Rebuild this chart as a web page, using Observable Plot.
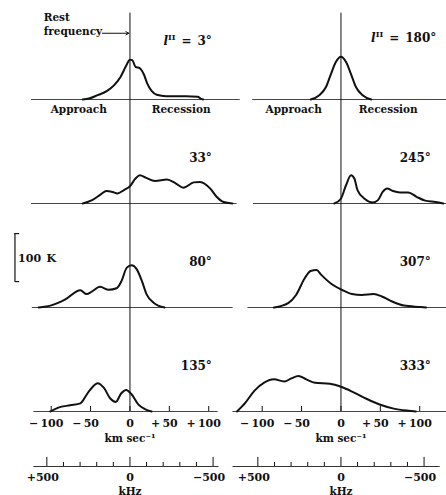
<!DOCTYPE html>
<html><head><meta charset="utf-8">
<script src="https://cdn.jsdelivr.net/npm/d3@7"></script>
<script src="https://cdn.jsdelivr.net/npm/@observablehq/plot@0.6"></script>
<style>
html,body{margin:0;padding:0;background:#fff;}
</style></head><body><div id="chart"></div>
<script>
// ---- panels (col 0 = left, col 1 = right; rows top to bottom) ----
const panelCols   = [0, 0, 0, 0, 1, 1, 1, 1];
const panelRows   = [0, 1, 2, 3, 0, 1, 2, 3];
const panelLabels = ["3°", "33°", "80°", "135°", "180°", "245°", "307°", "333°"];
const baseFrom    = [-125, -125, -124, -122, -112, -111, -118, -137]; // km/s
const baseTo      = [140, 136, 131, 112, 134, 134, 134, 134];

// ---- 21-cm profiles: radial velocity (km/s) and brightness temperature (K) ----
const v3   = [-60, -52, -41, -29, -20, -12, -5.5, 0, 3, 7, 12.7, 18, 22, 27.5, 34, 46, 71, 86, 90, 93];
const t3   = [0, 2, 9, 18, 30, 47, 68, 83, 82, 68, 65, 51, 33, 18, 10, 7, 7, 5.5, 2, 0];
const v33  = [-60, -48, -37, -30, -22, -16, -7.6, 0, 7, 12.7, 20, 32, 47, 58, 68, 81, 89, 102, 110, 119, 130];
const t33  = [0, 7, 19, 26, 24, 21, 28, 36, 52, 59, 54, 47, 50, 42, 33, 44, 45, 31, 14, 3, 0];
const v80  = [-116, -99, -82, -63, -55, -48.5, -38, -27, -17, -10.5, -4, 2, 8.5, 15, 21, 30, 44];
const t80  = [0, 5, 17, 36, 28, 33, 43, 37, 40, 56, 83, 88, 80, 56, 28, 10, 0];
const v135 = [-101, -91, -76, -63, -53, -41, -33, -25, -18, -11, -5, 2, 10.5, 19, 27.5];
const t135 = [0, 8, 13, 17, 40, 59, 49, 27, 20, 38, 45, 36, 15, 5, 0];
const v180 = [-38.5, -27.5, -19, -12.5, -6.5, 0, 6.5, 12.5, 19, 27.5, 38.5];
const t180 = [0, 9, 26, 54, 78, 89, 78, 54, 26, 9, 0];
const v245 = [-8.5, 0, 6.4, 12.8, 17, 21, 30, 40.6, 47, 53, 58.6, 66, 75, 85.5, 96, 107, 120, 130];
const t245 = [0, 10, 38, 59, 52, 28, 10, 2, 7, 24, 31, 26, 23, 23, 14, 6, 3, 0];
const v307 = [-85, -67, -57, -46, -38.5, -31, -25, -12, 1, 14, 26.5, 41.5, 52, 65, 80, 101, 108];
const t307 = [0, 9, 26, 61, 76, 78, 68, 49, 37, 28, 26, 28, 23, 12.5, 4, 1, 0];
const v333 = [-132, -121, -110, -97.5, -85, -72, -63, -54, -44, -33, -14, 1, 16, 33, 50, 67, 86, 95];
const t333 = [0, 19, 43, 60, 67, 62.5, 69, 74, 67, 60, 58, 51, 40, 26, 14, 6, 1.5, 0];
const profV = [v3, v33, v80, v135, v180, v245, v307, v333];
const profT = [t3, t33, t80, t135, t180, t245, t307, t333];

// ---- axes ----
const velTicks = [-100, -50, 0, 50, 100];                 // km/s
const khzTicks = [500, 400, 300, 200, 100, 0, -100, -200, -300, -400, -500];
const khzLabels = [500, 0, -500];
const KHZ_PER_KMS = 4.738;                                // 1420.406 MHz / c
const scaleBarK = 100;

// ---- layout constants ----
const yMin = -29.1667, yMax = 187.5;
const font = "DejaVu Serif";

// ---- build tables ----
const panels = panelCols.map((col, i) => ({col, row: panelRows[i], label: panelLabels[i], from: baseFrom[i], to: baseTo[i]}));
const profileData = panels.flatMap((p, i) => profV[i].map((v, j) => ({col: p.col, row: p.row, v, t: profT[i][j]})));
const ruleData = panels.map(p => ({col: p.col, row: p.row, y1: p.row === 3 ? 0 : yMin, y2: p.row === 0 ? 180 : yMax}));
const cols = [0, 1];
const velTickData = cols.flatMap(col => velTicks.map(v => ({col, v})));
const khzTickData = cols.flatMap(col => khzTicks.map(k => ({col, k, v: -k / KHZ_PER_KMS, major: k % 500 === 0})));
const khzLabelData = cols.flatMap(col => khzLabels.map(k => ({col, k, v: -k / KHZ_PER_KMS})));
const khzExtent = [{col: 0, from: -122, to: 113}, {col: 1, from: -137, to: 126}];
const sgn = d => d > 0 ? "+" : d < 0 ? "\u2212" : "";
const approachData = cols.flatMap(col => [
  {col, v: col ? -60 : -65, text: "Approach"},
  {col, v: col ? 60 : 65, text: "Recession"}]);
const topLabels = panels.filter(p => p.row === 0);
const rowLabels = panels.filter(p => p.row > 0);

const bold = {fontFamily: font, fontWeight: "bold"};

const svg = Plot.plot({
  width: 446, height: 495,
  marginLeft: 31, marginRight: 0, marginTop: 9, marginBottom: 70,
  style: {fontFamily: font, fontWeight: "bold", fontSize: "10.5px", background: "#fff", color: "#111"},
  x: {domain: [-125, 134], axis: null},
  y: {domain: [yMin, yMax], axis: null},
  fx: {domain: [0, 1], paddingInner: 0.0332, paddingOuter: 0, round: false, axis: null},
  fy: {domain: [0, 1, 2, 3], padding: 0, round: false, axis: null},
  marks: [
    // baselines
    Plot.ruleY(panels, {y: 0, x1: "from", x2: "to", fx: "col", fy: "row", stroke: "#444", strokeWidth: 1.1}),
    // rest-frequency line
    Plot.ruleX(ruleData, {x: 0, y1: "y1", y2: "y2", fx: "col", fy: "row", stroke: "#111", strokeWidth: 1}),
    // profiles
    Plot.line(profileData, {x: "v", y: "t", fx: "col", fy: "row", curve: "monotone-x", stroke: "#111", strokeWidth: 2, strokeLinejoin: "round"}),
    // panel labels
    Plot.text(rowLabels, {x: d => d.col ? 114 : 104, y: 87, fx: "col", fy: "row", text: "label", textAnchor: "end", lineAnchor: "bottom", fontSize: 12, ...bold}),
    Plot.text(topLabels, {x: d => d.col ? 121 : 104, y: d => d.col ? 120 : 112.5, fx: "col", fy: "row", text: "label", textAnchor: "end", lineAnchor: "bottom", fontSize: 12, className: "lii", ...bold}),
    // approach / recession
    Plot.text(approachData, {x: "v", y: 0, dy: 14, fx: "col", fy: () => 0, text: "text", lineAnchor: "bottom", fontSize: 10.5, ...bold}),
    // rest frequency annotation
    Plot.text([{col: 0}], {x: -109.5, y: 135, fx: "col", fy: () => 0, text: () => "Rest\nfrequency", textAnchor: "start", lineAnchor: "bottom", lineHeight: 1.3, fontSize: 10.5, ...bold}),
    Plot.arrow([{col: 0}], {x1: -35, x2: -1.5, y1: 138, y2: 138, fx: "col", fy: () => 0, stroke: "#111", strokeWidth: 1, headLength: 5}),
    // 100 K scale bar
    Plot.ruleX([{col: 0}], {x: -146, y1: 54, y2: 54 + scaleBarK, fx: "col", fy: () => 2, stroke: "#111", strokeWidth: 1.2}),
    Plot.ruleY([{col: 0, y: 54}, {col: 0, y: 54 + scaleBarK}], {y: "y", x1: -146, x2: -140, fx: "col", fy: () => 2, stroke: "#111", strokeWidth: 1.2}),
    Plot.text([{col: 0}], {x: -142, y: 94, fx: "col", fy: () => 2, text: () => "100\u2002K", textAnchor: "start", lineAnchor: "bottom", fontSize: 11, ...bold}),
    // velocity ticks and labels
    Plot.ruleX(velTickData, {x: "v", y1: 0, y2: 10.4, fx: "col", fy: () => 3, stroke: "#111", strokeWidth: 1}),
    Plot.text(velTickData.filter(d => d.v !== 0), {x: "v", y: 0, dy: 15, dx: -5, fx: "col", fy: () => 3, text: d => sgn(d.v) + "\u2009" + Math.abs(d.v), lineAnchor: "bottom", fontSize: 11, ...bold}),
    Plot.text(velTickData.filter(d => d.v === 0), {x: "v", y: 0, dy: 15, fx: "col", fy: () => 3, text: () => "0", lineAnchor: "bottom", fontSize: 11, ...bold}),
    Plot.text(cols, {x: 0, y: 0, dy: 30, fx: d => d, fy: () => 3, text: () => "km sec\u207B\u00B9", lineAnchor: "bottom", fontSize: 10.5, ...bold}),
    // kHz axis
    Plot.ruleY(khzExtent, {y: 0, dy: 55, x1: "from", x2: "to", fx: "col", fy: () => 3, stroke: "#333", strokeWidth: 1.2}),
    Plot.ruleX(khzTickData, {x: "v", y1: 0, y2: d => d.major ? 19 : 8.5, dy: 55, fx: "col", fy: () => 3, stroke: "#111", strokeWidth: 1}),
    Plot.text(khzLabelData.filter(d => d.k !== 0), {x: "v", y: 0, dy: 69, dx: -4, fx: "col", fy: () => 3, text: d => sgn(d.k) + Math.abs(d.k), lineAnchor: "bottom", fontSize: 11, ...bold}),
    Plot.text(khzLabelData.filter(d => d.k === 0), {x: "v", y: 0, dy: 69, fx: "col", fy: () => 3, text: () => "0", lineAnchor: "bottom", fontSize: 11, ...bold}),
    Plot.text(cols, {x: 0, y: 0, dy: 83, fx: d => d, fy: () => 3, text: () => "kHz", lineAnchor: "bottom", fontSize: 10.5, ...bold})
  ]
});

// galactic longitude notation l^II = ... in the top row
d3.select(svg).selectAll("g.lii text").each(function () {
  const label = this.textContent;
  const t = d3.select(this);
  t.text(null);
  t.append("tspan").attr("font-style", "italic").text("l");
  t.append("tspan").attr("font-size", 8).attr("dy", -5).text("II");
  t.append("tspan").attr("dy", 5).text("\u2002=\u2002" + label);
});

document.getElementById("chart").append(svg);
</script>
</body></html>
